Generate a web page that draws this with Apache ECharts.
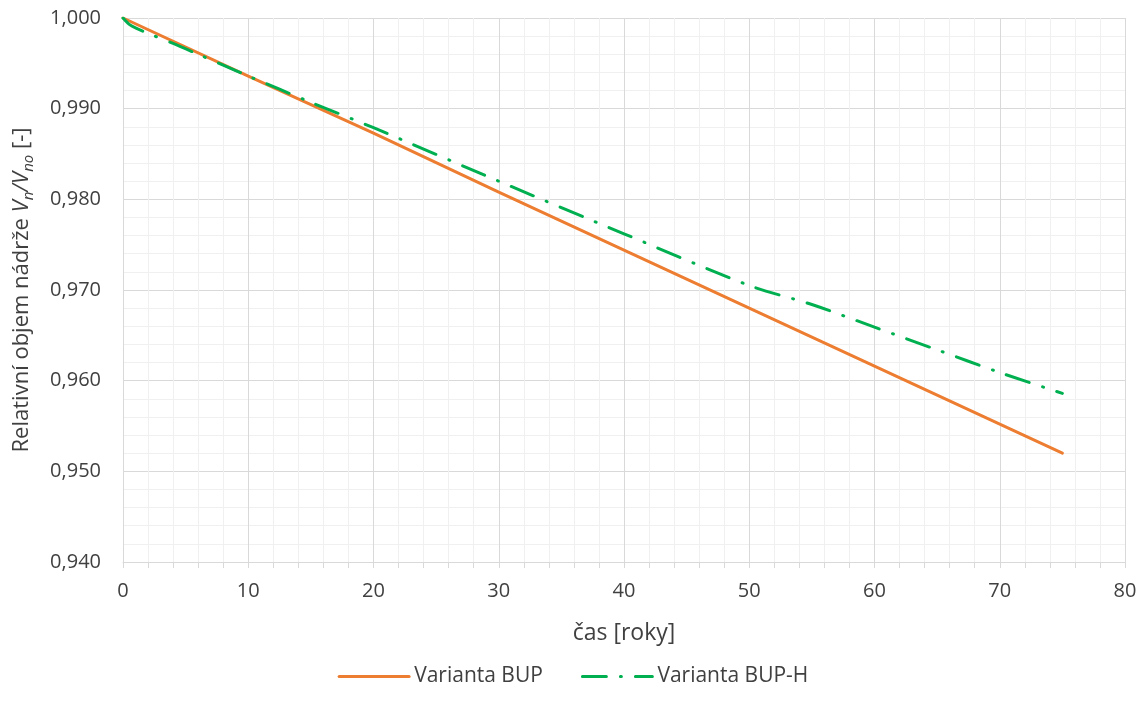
<!DOCTYPE html>
<html>
<head>
<meta charset="utf-8">
<script src="https://cdn.jsdelivr.net/npm/echarts@6/dist/echarts.min.js"></script>
<style>
  html, body { margin: 0; padding: 0; background: #fff; }
  #main { width: 1146px; height: 720px; }
</style>
</head>
<body>
<div id="main"></div>
<script>
// hodnoty
var bupYears = [0, 10, 20, 30, 40, 50, 60, 70, 75];
var bupValues = [1.0, 0.9936, 0.9873, 0.9808, 0.9744, 0.9680, 0.9616, 0.9552, 0.9520];

var buphYears = [0, 0.5, 1, 2, 4, 6, 8, 10, 15, 20, 30, 40, 50, 55, 60, 65, 70, 75];
var buphValues = [1.0, 0.9993, 0.9989, 0.9983, 0.9972, 0.9960, 0.9948, 0.9936, 0.9907, 0.9879,
                  0.9820, 0.9762, 0.9705, 0.9684, 0.9659, 0.9634, 0.9609, 0.9586];

var seriesNames = ['Varianta BUP', 'Varianta BUP-H'];

var textColor = '#404040';
var font = 'Open Sans';

function pairs(xs, ys) {
    var out = [];
    for (var i = 0; i < xs.length; i++) out.push([xs[i], ys[i]]);
    return out;
}

var chart = echarts.init(document.getElementById('main'));

var opt = {
    animation: false,
    textStyle: { fontFamily: font },
    grid: {
        left: 123,
        right: 21,
        top: 18,
        bottom: 158
    },
    legend: {
        bottom: 28,
        left: 'center',
        itemWidth: 70,
        itemHeight: 14,
        itemGap: 38,
        itemStyle: { opacity: 0 },
        lineStyle: { width: 3 },
        textStyle: { color: textColor, fontSize: 21, fontFamily: font },
        data: seriesNames
    },
    xAxis: {
        type: 'value',
        min: 0,
        max: 80,
        interval: 10,
        name: 'čas [roky]',
        nameLocation: 'middle',
        nameGap: 60,
        nameTextStyle: { color: textColor, fontSize: 23 },
        axisLine: { show: true, lineStyle: { color: '#d9d9d9', width: 1 } },
        axisTick: { show: true, length: 6, lineStyle: { color: '#d9d9d9' } },
        minorTick: { show: true, splitNumber: 5, length: 6, lineStyle: { color: '#d9d9d9' } },
        axisLabel: { color: textColor, fontSize: 20, margin: 19 },
        splitLine: { show: true, lineStyle: { color: '#d9d9d9', width: 1 } },
        minorSplitLine: { show: true, lineStyle: { color: '#f0f0f0', width: 1 } }
    },
    yAxis: {
        type: 'value',
        min: 0.94,
        max: 1.0,
        interval: 0.01,
        name: '{n|Relativní objem nádrže }{i|V}{s|n}{i|/V}{s|no}{n| [-]}',
        nameLocation: 'middle',
        nameRotate: 90,
        nameGap: 87,
        nameTextStyle: {
            color: textColor,
            rich: {
                n: { fontSize: 22, color: textColor, fontFamily: font, lineHeight: 28 },
                i: { fontSize: 22, color: textColor, fontFamily: font, fontStyle: 'italic', lineHeight: 28 },
                s: { fontSize: 15, color: textColor, fontFamily: font, fontStyle: 'italic', verticalAlign: 'bottom', lineHeight: 28, padding: [9, 0, 0, 0] }
            }
        },
        axisLine: { show: true, lineStyle: { color: '#d9d9d9', width: 1 } },
        axisTick: { show: false },
        axisLabel: {
            color: textColor,
            fontSize: 20,
            margin: 22,
            formatter: function (v) { return v.toFixed(3).replace('.', ','); }
        },
        splitLine: { show: true, lineStyle: { color: '#d9d9d9', width: 1 } },
        minorTick: { show: false, splitNumber: 5 },
        minorSplitLine: { show: true, lineStyle: { color: '#f0f0f0', width: 1 } }
    },
    series: [
        {
            name: seriesNames[0],
            type: 'line',
            data: pairs(bupYears, bupValues),
            symbol: 'none',
            showSymbol: false,
            smooth: false,
            color: '#ED7D31',
            lineStyle: { color: '#ED7D31', width: 3, cap: 'round' }
        },
        {
            name: seriesNames[1],
            type: 'line',
            data: pairs(buphYears, buphValues),
            symbol: 'none',
            showSymbol: false,
            smooth: 0.3,
            color: '#00B050',
            lineStyle: { color: '#00B050', width: 3, cap: 'round', type: [24, 14, 1, 14] }
        }
    ]
};

chart.setOption(opt);
</script>
</body>
</html>
